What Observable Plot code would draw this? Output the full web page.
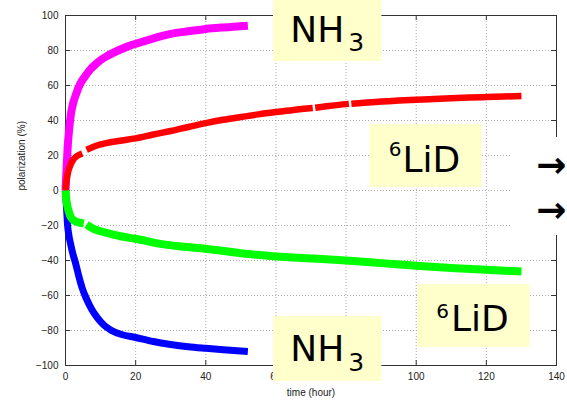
<!DOCTYPE html>
<html>
<head>
<meta charset="utf-8">
<script src="https://cdn.jsdelivr.net/npm/d3@7"></script>
<script src="https://cdn.jsdelivr.net/npm/@observablehq/plot@0.6"></script>
<style>
  html, body { margin: 0; padding: 0; background: #fff; }
</style>
</head>
<body>
<div id="chart"></div>
<script>
// ---- data ----
const xTicks = [0, 20, 40, 60, 80, 100, 120, 140];
const yTicks = [-100, -80, -60, -40, -20, 0, 20, 40, 60, 80, 100];
const xLabel = "time (hour)";
const yLabel = "polarization (%)";

// NH3, positive polarization (magenta)
const nh3PosT = [0, 0.3, 0.6, 1.0, 1.5, 2.2, 3, 4.2, 5.5, 7, 8.5, 10, 12, 15, 18, 22, 26, 30, 35, 40, 45, 52];
const nh3PosP = [0, 12, 24, 34, 43, 50, 55, 61, 65, 69, 72, 74.5, 77, 80, 82.5, 85, 87.5, 89.5, 91, 92.3, 93.2, 94.2];

// NH3, negative polarization (blue)
const nh3NegT = [0, 0.3, 0.6, 1.0, 1.5, 2.2, 2.8, 3.8, 4.8, 6, 7.5, 9, 11, 13, 16, 20, 25, 30, 35, 40, 45, 52];
const nh3NegP = [0, -10, -20, -26, -31, -37, -41, -49, -56, -62, -68, -72.5, -77, -79.8, -82.3, -84, -86.3, -88, -89.3, -90.2, -91, -92];

// 6LiD, positive polarization (red); null = gap in the record
const lidPosT = [0, 0.2, 0.4, 0.8, 1.3, 2, 3, 4, 4.8, null, 6.0, 8, 10, 12.8, 16, 20, 25, 30, 35, 40, 45, 50, 55, 60, 65, 70.5, null, 71.2, 75, 80.8, null, 81.5, 85, 90, 95, 100, 105, 110, 115, 120, 125, 130];
const lidPosP = [0, 4, 7, 11, 14, 17, 19.3, 20.5, 21.2, null, 23.3, 25, 26.3, 27.6, 28.6, 29.8, 32, 34, 36.3, 38.5, 40.4, 42, 43.5, 44.8, 46, 47.1, null, 47.3, 48.3, 49.5, null, 49.6, 50.2, 50.8, 51.4, 51.9, 52.3, 52.7, 53.1, 53.4, 53.7, 54.0];

// 6LiD, negative polarization (green)
const lidNegT = [0, 0.2, 0.4, 0.8, 1.3, 2, 3, 4, 5.2, null, 6.0, 8, 10, 12.8, 16, 20, 27, 33, 40, 50, 60, 70, 80, 90, 100, 110, 120, 130];
const lidNegP = [0, -4, -7.6, -11, -14.3, -16.5, -17.8, -18.3, -18.8, null, -19.5, -21.9, -23.3, -24.8, -26.3, -27.6, -30.5, -32, -33.3, -35.8, -37.7, -38.8, -40, -41.5, -43, -44.3, -45.3, -46.3];

// annotation boxes (data units)
const boxes = [
  {x1: 59.3, x2: 90.2, y1: 111, y2: 73.7},
  {x1: 59.3, x2: 90.2, y1: -72, y2: -109.1},
  {x1: 86.8, x2: 118.8, y1: 37.7, y2: 1.7},
  {x1: 100.5, x2: 132.5, y1: -53.7, y2: -89.7}
];
const mainLabels = [
  {t: 64.1, p: 85.1, text: "NH"},
  {t: 64.1, p: -97.5, text: "NH"},
  {t: 96.1, p: 10.5, text: "LiD"},
  {t: 109.9, p: -80, text: "LiD"}
];
const subLabels = [
  {t: 80.6, p: 80, text: "3"},
  {t: 80.6, p: -102.9, text: "3"}
];
const supLabels = [
  {t: 92.2, p: 20, text: "6"},
  {t: 105.7, p: -73.1, text: "6"}
];
const cover = [{x1: 127, x2: 147, y1: 30.3, y2: -25.7}];
const arrows = [{t: 138.5, p: 14.3}, {t: 138.5, p: -11.4}];

const toRows = (T, P) => T.map((t, i) => ({t, p: P[i]}));

const boxFont = "DejaVu Sans, Noto Sans, sans-serif";

const chart = Plot.plot({
  width: 567,
  height: 401,
  marginLeft: 65,
  marginRight: 11,
  marginTop: 15,
  marginBottom: 36,
  style: {fontFamily: "Liberation Sans, Arial, Helvetica, sans-serif", fontSize: "10px", background: "#fff", color: "#222"},
  x: {domain: [0, 140], ticks: xTicks, tickSize: 0, tickPadding: 7, label: null},
  y: {domain: [-100, 100], ticks: yTicks, tickSize: 0, tickPadding: 7, label: null},
  marks: [
    Plot.ruleX(xTicks.slice(1, -1), {stroke: "#aaa", strokeDasharray: "1,2"}),
    Plot.ruleY(yTicks.slice(1, -1), {stroke: "#aaa", strokeDasharray: "1,2"}),
    Plot.frame({stroke: "#333"}),
    Plot.ruleX(xTicks, {stroke: "#333", insetTop: 345}),
    Plot.ruleX(xTicks, {stroke: "#333", insetBottom: 345}),
    Plot.ruleY(yTicks, {stroke: "#333", insetRight: 486}),
    Plot.ruleY(yTicks, {stroke: "#333", insetLeft: 486}),
    Plot.text([xLabel], {frameAnchor: "bottom", text: d => d, lineAnchor: "bottom", dy: 30, fontSize: 10, fill: "#222"}),
    Plot.text([yLabel], {frameAnchor: "left", text: d => d, rotate: -90, dx: -44, fontSize: 10, fill: "#222"}),
    Plot.line(toRows(nh3PosT, nh3PosP), {x: "t", y: "p", stroke: "#ff00ff", strokeWidth: 8, curve: "monotone-x", strokeLinecap: "butt"}),
    Plot.line(toRows(nh3NegT, nh3NegP), {x: "t", y: "p", stroke: "#0000ff", strokeWidth: 7, curve: "monotone-x", strokeLinecap: "butt"}),
    Plot.line(toRows(lidPosT, lidPosP), {x: "t", y: "p", stroke: "#ff0000", strokeWidth: 6.5, curve: "monotone-x", strokeLinecap: "butt"}),
    Plot.line(toRows(lidNegT, lidNegP), {x: "t", y: "p", stroke: "#00ff00", strokeWidth: 8, curve: "monotone-x", strokeLinecap: "butt"}),
    Plot.rect(cover, {x1: "x1", x2: "x2", y1: "y1", y2: "y2", fill: "#fff"}),
    Plot.text(arrows, {x: "t", y: "p", text: () => "→", fontSize: 36, fontWeight: "bold", fill: "#000", fontFamily: boxFont}),
    Plot.rect(boxes, {x1: "x1", x2: "x2", y1: "y1", y2: "y2", fill: "#ffffcc"}),
    Plot.text(mainLabels, {x: "t", y: "p", text: "text", textAnchor: "start", lineAnchor: "bottom", fontSize: 36, fill: "#000", fontFamily: boxFont}),
    Plot.text(subLabels, {x: "t", y: "p", text: "text", textAnchor: "start", lineAnchor: "bottom", fontSize: 25, fill: "#000", fontFamily: boxFont}),
    Plot.text(supLabels, {x: "t", y: "p", text: "text", textAnchor: "start", lineAnchor: "bottom", fontSize: 20, fill: "#000", fontFamily: boxFont})
  ]
});
document.getElementById("chart").appendChild(chart);
</script>
</body>
</html>
